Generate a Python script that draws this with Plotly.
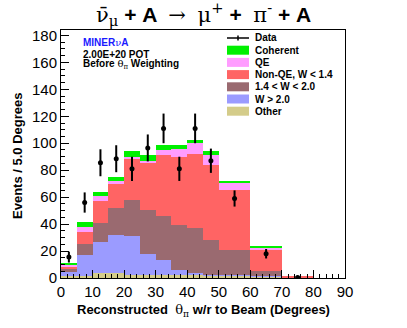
import plotly.graph_objects as go

# bin edges (degrees), variable width past 50
edges = [0, 5, 10, 15, 20, 25, 30, 35, 40, 45, 50, 60, 70, 80, 90]

# stacked MC components, events / 5 degrees
other = [1.3, 1.5, 4.0, 3.5, 2.5, 2.0, 2.0, 2.0, 2.0, 2.0, 1.5, 1.0, 0.2, 0]
w_gt_2 = [3.2, 15.5, 23.0, 28.5, 28.5, 16.0, 11.5, 4.0, 1.5, 0.5, 1.0, 0.2, 0, 0]
w_14_20 = [2.3, 8.0, 14.0, 20.0, 27.0, 32.5, 32.5, 33.5, 33.5, 25.5, 18.5, 3.8, 0.1, 0]
non_qe = [2.0, 9.0, 16.5, 18.0, 31.0, 34.5, 45.0, 50.5, 55.0, 56.0, 44.0, 15.5, 0.7, 0]
qe = [1.0, 4.0, 3.5, 2.0, 1.0, 2.0, 4.0, 5.5, 8.0, 7.0, 5.5, 2.0, 0, 0]
coherent = [1.2, 3.5, 3.0, 3.0, 4.0, 4.0, 3.5, 3.5, 2.5, 3.0, 1.5, 1.0, 0, 0]

# data
data_x = [2.5, 7.5, 12.5, 17.5, 22.5, 27.5, 32.5, 37.5, 42.5, 47.5, 55, 65, 75]
data_y = [15.5, 56, 85.5, 88.5, 81, 96.5, 111, 81, 111, 87, 59, 18, 0.3]
data_err = [4, 7.5, 10, 10, 9, 10, 11, 9, 11, 9, 6, 3.5, 0.5]

centers = [(a + b) / 2 for a, b in zip(edges[:-1], edges[1:])]
widths = [b - a for a, b in zip(edges[:-1], edges[1:])]

stack = [
    ("Other", other, "#d4cc8a"),
    ("W > 2.0", w_gt_2, "#9b9bff"),
    ("1.4 < W < 2.0", w_14_20, "#9a6a70"),
    ("Non-QE, W < 1.4", non_qe, "#ff6464"),
    ("QE", qe, "#ff9cff"),
    ("Coherent", coherent, "#00f000"),
]

fig = go.Figure()
for name, vals, col in stack:
    fig.add_trace(go.Bar(x=centers, y=vals, width=widths, name=name,
                         marker=dict(color=col, line=dict(width=0)),
                         showlegend=False))

fig.add_trace(go.Scatter(x=data_x, y=data_y, mode="markers", name="Data",
                         marker=dict(color="black", size=5),
                         error_y=dict(type="data", array=data_err, color="black",
                                      thickness=2, width=0),
                         showlegend=False))

font = "Liberation Sans, Arial, sans-serif"
greek = "DejaVu Serif, Liberation Serif, serif"

def g(s):
    return '<span style="font-family:%s;font-weight:normal">%s</span>' % (greek, s)

# hand-made legend, ROOT style
x0, x1, xt = 0.5845, 0.662, 0.676
row_px = [38 + 12.2 * i for i in range(7)]
def py(p):
    return (278 - p) / 248

shapes = []
annots = []
shapes.append(dict(type="line", xref="paper", yref="paper", x0=x0, x1=x1,
                   y0=py(row_px[0]), y1=py(row_px[0]), line=dict(color="black", width=1.5)))
shapes.append(dict(type="line", xref="paper", yref="paper", x0=(x0 + x1) / 2, x1=(x0 + x1) / 2,
                   y0=py(row_px[0] - 2.5), y1=py(row_px[0] + 2.5), line=dict(color="black", width=1.5)))
annots.append(dict(x=xt, y=py(row_px[0]), text="<b>Data</b>"))
for i, (name, vals, col) in enumerate(reversed(stack)):
    yc = row_px[i + 1]
    shapes.append(dict(type="rect", xref="paper", yref="paper", x0=x0, x1=x1,
                       y0=py(yc + 4.5), y1=py(yc - 4.5), fillcolor=col, line=dict(width=0)))
    annots.append(dict(x=xt, y=py(yc), text="<b>%s</b>" % name.replace("<", "&lt;").replace(">", "&gt;")))
for a in annots:
    a.update(xref="paper", yref="paper", xanchor="left", yanchor="middle", showarrow=False,
             font=dict(family=font, size=10, color="black"))

# top-left labels
labels = [("<b>MINER</b>" + g("ν") + "<b>A</b>", 42.7, "#1a1aff"),
          ("<b>2.00E+20 POT</b>", 54, "black"),
          ("<b>Before </b>" + g("θ<sub>π</sub>") + "<b> Weighting</b>", 64.5, "black")]
for txt, ypx, col in labels:
    annots.append(dict(x=0.072, y=py(ypx), xref="paper", yref="paper", text=txt,
                       xanchor="left", yanchor="middle", showarrow=False,
                       font=dict(family=font, size=10, color=col)))

# axis titles as annotations
annots.append(dict(x=0.5, y=py(310), xref="paper", yref="paper",
                   text="<b>Reconstructed  </b>" + g("θ<sub>π</sub>") + "<b> w/r to Beam (Degrees)</b>",
                   xanchor="center", yanchor="middle", showarrow=False,
                   font=dict(family=font, size=13, color="black")))
annots.append(dict(x=(17 - 61) / 284, y=py(156), xref="paper", yref="paper",
                   text="<b>Events / 5.0 Degrees</b>", textangle=-90,
                   xanchor="center", yanchor="middle", showarrow=False,
                   font=dict(family=font, size=13, color="black")))
# title
annots.append(dict(x=0.5, y=py(14), xref="paper", yref="paper",
                   text=g("ν̄") + g("<sub>μ</sub>") + "<b> + A </b> " + g("→") + "  " + g("μ<sup>+</sup>")
                   + "<b> + </b> " + g("π<sup>-</sup>") + "<b> + A</b>",
                   xanchor="center", yanchor="middle", showarrow=False,
                   font=dict(family=font, size=21, color="black")))

fig.update_layout(
    width=407, height=328,
    margin=dict(l=61, r=62, t=30, b=50),
    paper_bgcolor="white", plot_bgcolor="white",
    barmode="stack", bargap=0,
    font=dict(family=font, color="black"),
    shapes=shapes,
    annotations=annots,
    xaxis=dict(range=[0, 90], dtick=10, ticks="inside", ticklen=8, tickcolor="black",
               showline=True, linecolor="black", linewidth=1, mirror=True,
               showgrid=False, zeroline=False, automargin=False,
               tickfont=dict(family=font, size=15),
               minor=dict(dtick=2, ticks="inside", ticklen=4, tickcolor="black")),
    yaxis=dict(range=[0, 184], dtick=20, ticks="inside", ticklen=8, tickcolor="black",
               showline=True, linecolor="black", linewidth=1, mirror=True,
               showgrid=False, zeroline=False, automargin=False,
               tickfont=dict(family=font, size=15),
               minor=dict(dtick=5, ticks="inside", ticklen=4, tickcolor="black")),
)

fig.write_html("out.html", config={"displayModeBar": False},
               post_script="document.body.style.margin='0px';")
